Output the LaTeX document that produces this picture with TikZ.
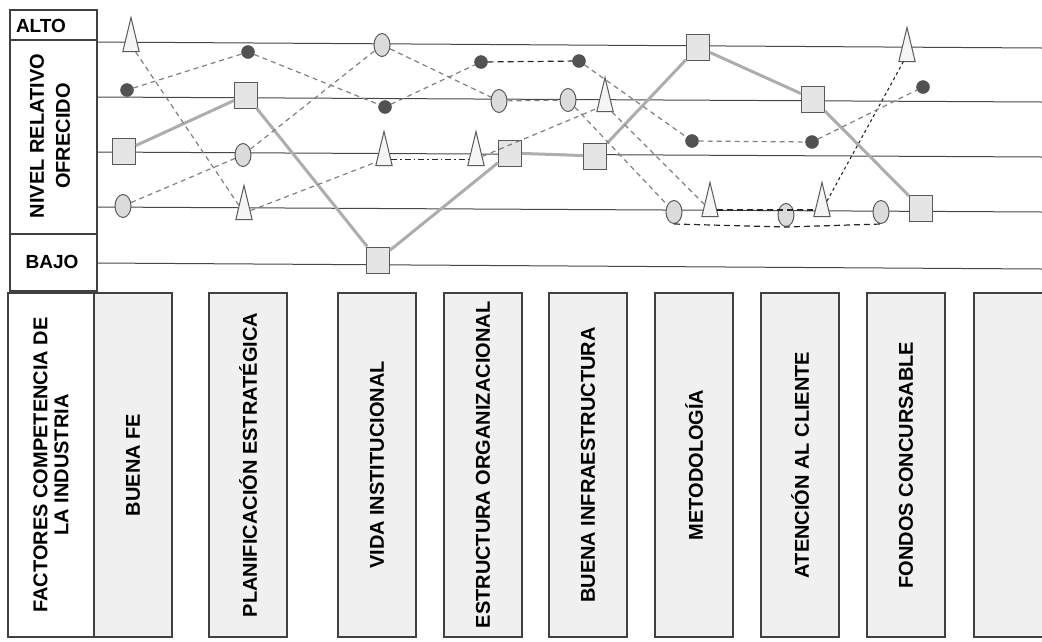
\documentclass[tikz,border=0pt]{standalone}
\usepackage{fontspec}
\setmainfont{Liberation Sans}
\usetikzlibrary{shapes.geometric}

\begin{document}
\begin{tikzpicture}[
x=1pt,y=-1pt,
level/.style={draw=black!72,line width=1pt},
frame/.style={draw=black!75,line width=1.3pt},
factor/.style={draw=black!75,line width=1.3pt,fill=black!6,rotate=90,minimum width=344pt,minimum height=78pt,inner sep=0pt,font=\fontsize{20}{24}\selectfont\bfseries},
sqmark/.style={draw=black!65,fill=black!10,line width=1pt,minimum width=23pt,minimum height=26pt,inner sep=0pt},
elmark/.style={ellipse,draw=black!65,fill=black!14,line width=1pt,minimum width=16pt,minimum height=23pt,inner sep=0pt},
trimark/.style={isosceles triangle,shape border rotate=90,isosceles triangle apex angle=27,draw=black!65,fill=black!4,line width=1pt,minimum height=34pt,inner sep=0pt,anchor=lower side},
dotmark/.style={circle,draw=black!70,fill=black!68,minimum size=13pt,inner sep=0pt},
sqline/.style={draw=black!32,line width=3pt},
gline/.style={draw=black!50,line width=1.2pt,dash pattern=on 5pt off 4pt},
dline/.style={draw=black!85,line width=1.2pt,dash pattern=on 6pt off 4pt},
dashdot/.style={draw=black!85,line width=1.1pt,dash pattern=on 6pt off 3pt on 1.5pt off 3pt},
fline/.style={draw=black!85,line width=1.1pt,dash pattern=on 3pt off 3pt},
lbl/.style={font=\fontsize{19}{22}\selectfont\bfseries},
vlbl/.style={font=\fontsize{20}{26}\selectfont\bfseries,rotate=90,align=center}
]
\useasboundingbox (0,0) rectangle (1042,641);

%levels
\path[level] (97,42) -- (1042,48);
\path[level] (97,97) -- (1042,102);
\path[level] (97,152) -- (1042,157);
\path[level] (97,207) -- (1042,212);
\path[level] (97,263) -- (1042,269);

%left column
\path[frame] (10,10) rectangle (97,291);
\path[frame] (10,40) -- (97,40);
\path[frame] (10,234) -- (97,234);
\node[lbl] (alto) at (41,26) {ALTO};
\node[vlbl] (nivel) at (50,136) {NIVEL RELATIVO\\OFRECIDO};
\node[lbl] (bajo) at (52,262) {BAJO};

%factors
\node[factor,fill=white,minimum height=86pt,align=center,font=\fontsize{20}{21}\selectfont\bfseries] (fac0) at (51,465) {FACTORES COMPETENCIA DE\\LA INDUSTRIA};
\node[factor] (fac1) at (133,465) {BUENA FE};
\node[factor] (fac2) at (248,465) {PLANIFICACIÓN ESTRATÉGICA};
\node[factor] (fac3) at (377,465) {VIDA INSTITUCIONAL};
\node[factor] (fac4) at (483,465) {ESTRUCTURA ORGANIZACIONAL};
\node[factor] (fac5) at (588,465) {BUENA INFRAESTRUCTURA};
\node[factor] (fac6) at (694,465) {METODOLOGÍA};
\node[factor] (fac7) at (800,465) {ATENCIÓN AL CLIENTE};
\node[factor] (fac8) at (906,465) {FONDOS CONCURSABLE};
\node[factor,minimum height=72pt] (fac9) at (1010,465) {};

%squares
\node[sqmark] (sq1) at (124,151) {};
\node[sqmark] (sq2) at (246,95) {};
\node[sqmark] (sq3) at (378,260) {};
\node[sqmark] (sq4) at (510,153) {};
\node[sqmark] (sq5) at (595,156) {};
\node[sqmark] (sq6) at (698,47) {};
\node[sqmark] (sq7) at (813,99) {};
\node[sqmark] (sq8) at (921,208) {};

%ellipses
\node[elmark] (el1) at (123,206) {};
\node[elmark] (el2) at (243,155) {};
\node[elmark] (el3) at (382,45) {};
\node[elmark] (el4) at (499,101) {};
\node[elmark] (el5) at (568,100) {};
\node[elmark] (el6) at (674,212) {};
\node[elmark] (el7) at (786,215) {};
\node[elmark] (el8) at (881,212) {};

%triangles
\node[trimark] (tri1) at (131,52) {};
\node[trimark] (tri2) at (244,220) {};
\node[trimark] (tri3) at (384,166) {};
\node[trimark] (tri4) at (476,166) {};
\node[trimark] (tri5) at (605,112) {};
\node[trimark] (tri6) at (710,217) {};
\node[trimark] (tri7) at (822,217) {};
\node[trimark] (tri8) at (907,62) {};

%dots
\node[dotmark] (dot1) at (127,90) {};
\node[dotmark] (dot2) at (248,52) {};
\node[dotmark] (dot3) at (385,107) {};
\node[dotmark] (dot4) at (481,62) {};
\node[dotmark] (dot5) at (579,61) {};
\node[dotmark] (dot6) at (692,141) {};
\node[dotmark] (dot7) at (812,142) {};
\node[dotmark] (dot8) at (923,87) {};

\path[sqline] (sq1) -- (sq2) -- (sq3) -- (sq4) -- (sq5) -- (sq6) -- (sq7) -- (sq8);

\path[gline] (el1) -- (el2) -- (el3) -- (el4) -- (el5) -- (el6);
\path[dline] (el6.south) -- (el7.south) -- (el8.south);

\path[gline] (tri1) -- (tri2) -- (tri3);
\path[dashdot] (tri3) -- (tri4);
\path[gline] (tri4) -- (tri5) -- (tri6);
\path[dline] (tri6) -- (tri7);
\path[fline] (tri7) -- (tri8);

\path[gline] (dot1) -- (dot2) -- (dot3) -- (dot4);
\path[dline] (dot4) -- (dot5);
\path[gline] (dot5) -- (dot6) -- (dot7) -- (dot8);

\end{tikzpicture}
\end{document}
